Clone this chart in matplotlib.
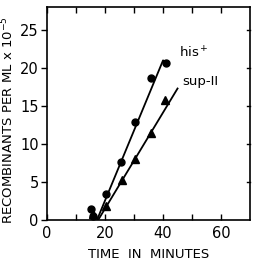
import matplotlib
matplotlib.use('Agg')
from matplotlib import pyplot as plt

# his+ recombinants (circles)
his_t = [15, 16, 20.5, 25.5, 30.3, 36, 41]
his_n = [1.5, 0.6, 3.4, 7.6, 12.9, 18.7, 20.7]
his_fit_t = [17.2, 40, 41]
his_fit_n = [0, 21, 20.7]

# sup-11 recombinants (triangles)
sup_t = [16, 20.3, 25.8, 30.3, 36, 40.7]
sup_n = [0.8, 1.8, 5.3, 8.1, 11.5, 15.8]
sup_fit_t = [17.6, 45]
sup_fit_n = [0, 17.3]

fig = plt.figure(figsize=(2.57, 2.63), dpi=100)
ax = fig.add_axes([0.183, 0.163, 0.79, 0.81])

ax.plot(his_fit_t, his_fit_n, color='black', lw=1.3)
ax.plot(sup_fit_t, sup_fit_n, color='black', lw=1.3)
ax.plot(his_t, his_n, 'o', color='black', ms=5)
ax.plot(sup_t, sup_n, '^', color='black', ms=5.5)

ax.text(45.5, 21.3, 'his$^+$', fontsize=9.5)
ax.text(46.5, 17.8, 'sup-II', fontsize=9.5)

ax.set_xlim(0, 70)
ax.set_ylim(0, 28)
ax.set_xticks([0, 20, 40, 60])
ax.set_xticks([10, 30, 50], minor=True)
ax.set_yticks([0, 5, 10, 15, 20, 25])
ax.tick_params(axis='x', which='both', direction='in', top=True, length=4, width=1, labelsize=10.5, pad=4)
ax.tick_params(axis='y', direction='out', right=False, length=4, width=1, labelsize=10.5, pad=2)
for y in [5, 10, 15, 20, 25]:
    ax.plot([68.8, 70], [y, y], color='black', lw=1, clip_on=False)

ax.set_xlabel('TIME  IN  MINUTES', fontsize=9.5, labelpad=5)
ax.set_ylabel('RECOMBINANTS PER ML x 10$^{-5}$', fontsize=9.5)
ax.yaxis.set_label_coords(-0.15, 0.47)

for s in ax.spines.values():
    s.set_linewidth(1.2)

fig.savefig('out.png', dpi=100)
